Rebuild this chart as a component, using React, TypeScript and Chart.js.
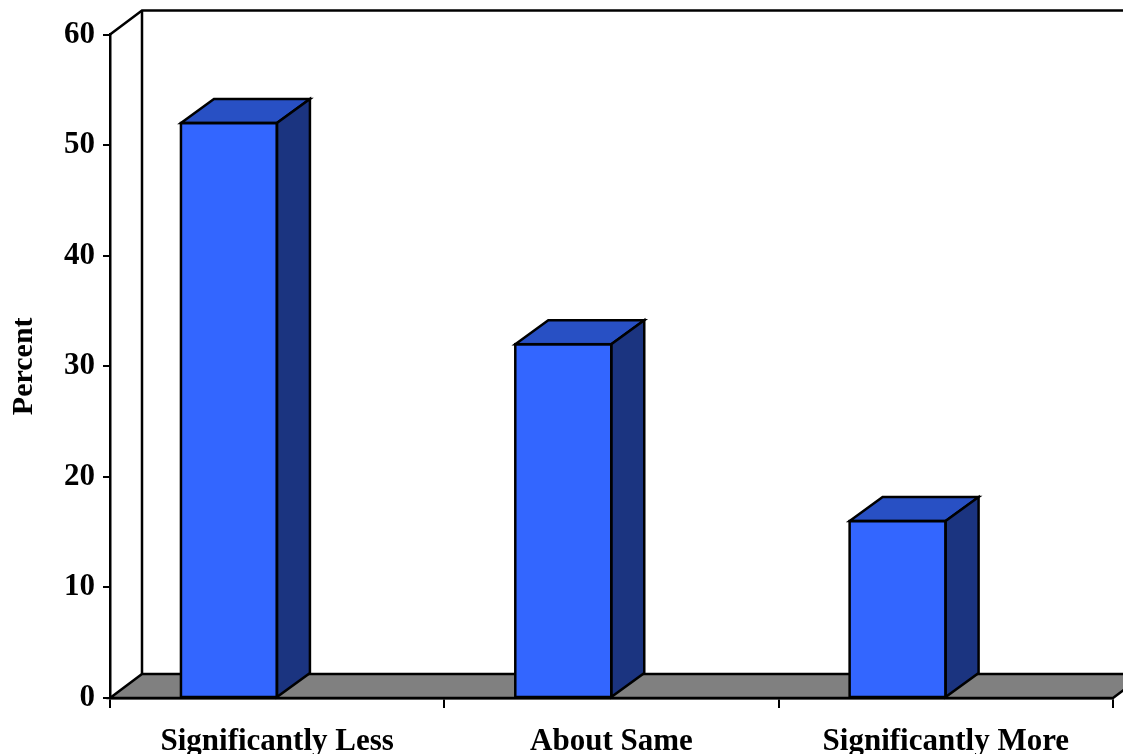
import React, { useEffect, useRef } from "react";
import { Chart, registerables } from "chart.js";

Chart.register(...registerables);

const categories = ["Significantly Less", "About Same", "Significantly More"];
const percentValues = [52, 32, 16];
const yTickMin = 0;
const yTickMax = 60;
const yTickStep = 10;

const FONT = '"Liberation Serif", "Times New Roman", serif';
const FRONT = "#3366FF";
const TOP = "#2850C4";
const SIDE = "#1B3480";
const FLOOR = "#808080";

const WALL_DX = 32;
const WALL_DY = -24;
const BAR_DX = 33;
const BAR_DY = -24;
const LINE_W = 2.5;

const threeD = {
  id: "threeD",
  beforeDatasetsDraw(chart: any) {
    const { ctx, chartArea } = chart;
    const { left, right, top, bottom } = chartArea;
    ctx.save();
    ctx.lineWidth = LINE_W;
    ctx.strokeStyle = "#000";
    ctx.lineJoin = "miter";
    // floor
    ctx.beginPath();
    ctx.moveTo(left, bottom);
    ctx.lineTo(left + WALL_DX, bottom + WALL_DY);
    ctx.lineTo(right + WALL_DX, bottom + WALL_DY);
    ctx.lineTo(right, bottom);
    ctx.closePath();
    ctx.fillStyle = FLOOR;
    ctx.fill();
    ctx.stroke();
    // walls
    ctx.beginPath();
    ctx.moveTo(left, top);
    ctx.lineTo(left + WALL_DX, top + WALL_DY);
    ctx.lineTo(chart.width + 10, top + WALL_DY);
    ctx.moveTo(left + WALL_DX, top + WALL_DY);
    ctx.lineTo(left + WALL_DX, bottom + WALL_DY);
    ctx.stroke();
    ctx.restore();
  },
  afterDatasetsDraw(chart: any) {
    const { ctx } = chart;
    const meta = chart.getDatasetMeta(0);
    ctx.save();
    ctx.lineWidth = LINE_W;
    ctx.strokeStyle = "#000";
    ctx.lineJoin = "miter";
    meta.data.forEach((el: any) => {
      const p = el.getProps(["x", "y", "base", "width"], true);
      const L = p.x - p.width / 2;
      const R = p.x + p.width / 2;
      const T = p.y;
      const B = p.base;
      // top face
      ctx.beginPath();
      ctx.moveTo(L, T);
      ctx.lineTo(L + BAR_DX, T + BAR_DY);
      ctx.lineTo(R + BAR_DX, T + BAR_DY);
      ctx.lineTo(R, T);
      ctx.closePath();
      ctx.fillStyle = TOP;
      ctx.fill();
      ctx.stroke();
      // side face
      ctx.beginPath();
      ctx.moveTo(R, T);
      ctx.lineTo(R + BAR_DX, T + BAR_DY);
      ctx.lineTo(R + BAR_DX, B + BAR_DY);
      ctx.lineTo(R, B);
      ctx.closePath();
      ctx.fillStyle = SIDE;
      ctx.fill();
      ctx.stroke();
      // front outline
      ctx.strokeRect(L, T, R - L, B - T);
    });
    ctx.restore();
  },
};

export default function App() {
  const canvasRef = useRef<HTMLCanvasElement | null>(null);

  useEffect(() => {
    if (!canvasRef.current) return;
    const chart = new Chart(canvasRef.current, {
      type: "bar",
      data: {
        labels: categories,
        datasets: [
          {
            data: percentValues,
            backgroundColor: FRONT,
            borderColor: "#000",
            borderWidth: 0,
            categoryPercentage: 0.577,
            barPercentage: 0.995,
          },
          {
            data: categories.map(() => null),
            backgroundColor: "transparent",
            categoryPercentage: 0.577,
            barPercentage: 0.995,
          },
        ],
      },
      options: {
        animation: false,
        responsive: true,
        maintainAspectRatio: false,
        layout: { padding: { top: 26, right: 18, left: 0, bottom: 0 } },
        plugins: {
          legend: { display: false },
          tooltip: { enabled: false },
        },
        scales: {
          x: {
            offset: true,
            grid: {
              offset: true,
              drawOnChartArea: false,
              drawTicks: true,
              tickLength: 10,
              color: "#000",
              lineWidth: 2,
            },
            border: { display: true, color: "#000", width: 2.5 },
            ticks: {
              color: "#000",
              font: { family: FONT, size: 31, weight: "bold" },
              padding: 15,
              maxRotation: 0,
              autoSkip: false,
            },
            afterFit(scale: any) {
              scale.height = 56;
            },
          },
          y: {
            min: yTickMin,
            max: yTickMax,
            grid: {
              drawOnChartArea: false,
              drawTicks: true,
              tickLength: 7,
              color: "#000",
              lineWidth: 2,
            },
            border: { display: true, color: "#000", width: 2.5 },
            ticks: {
              stepSize: yTickStep,
              color: "#000",
              font: { family: FONT, size: 31, weight: "bold" },
              padding: 8,
            },
            title: {
              display: true,
              text: "Percent",
              color: "#000",
              font: { family: FONT, size: 30, weight: "bold" },
              padding: { top: -2, bottom: 0 },
            },
            afterFit(scale: any) {
              scale.width = 102;
            },
          },
        },
      },
      plugins: [threeD],
    });
    return () => chart.destroy();
  }, []);

  return (
    <div style={{ width: 1123, height: 746, position: "relative" }}>
      <canvas ref={canvasRef} />
    </div>
  );
}
